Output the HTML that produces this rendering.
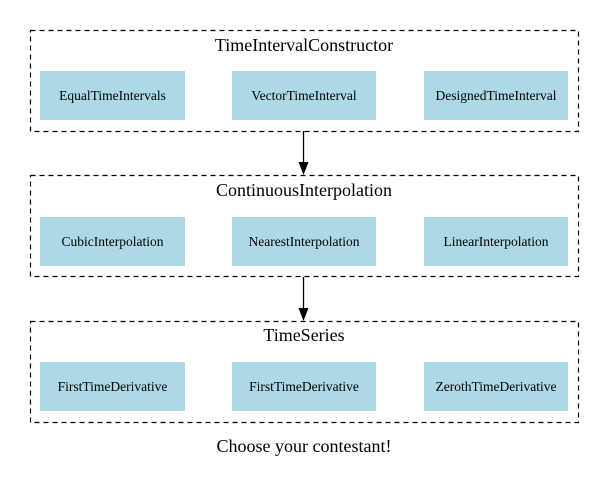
<!DOCTYPE html>
<html><head><style>body{margin:0;background:#fff}svg{display:block}</style></head><body>
<svg width="609" height="482" viewBox="0 0 609 482" xmlns="http://www.w3.org/2000/svg" font-family="Liberation Serif, serif">
<g fill="none" stroke="#000" stroke-width="1.2" stroke-dasharray="5,4">
<rect x="30.5" y="30.5" width="548" height="101"/>
<rect x="30.5" y="175.5" width="548" height="101"/>
<rect x="30.5" y="321.5" width="548" height="101"/>
</g>
<g font-size="18" text-anchor="middle">
<text x="304" y="51">TimeIntervalConstructor</text>
<text x="304" y="196">ContinuousInterpolation</text>
<text x="304" y="341">TimeSeries</text>
<text x="304" y="452">Choose your contestant!</text>
</g>
<g fill="#add8e6">
<rect x="40" y="71" width="145" height="49"/><rect x="232" y="71" width="144" height="49"/><rect x="424" y="71" width="144" height="49"/>
<rect x="40" y="217" width="145" height="49"/><rect x="232" y="217" width="144" height="49"/><rect x="424" y="217" width="144" height="49"/>
<rect x="40" y="362" width="145" height="49"/><rect x="232" y="362" width="144" height="49"/><rect x="424" y="362" width="144" height="49"/>
</g>
<g font-size="13.5" text-anchor="middle">
<text x="112.5" y="100">EqualTimeIntervals</text><text x="304" y="100">VectorTimeInterval</text><text x="496" y="100">DesignedTimeInterval</text>
<text x="112.5" y="246">CubicInterpolation</text><text x="304" y="246">NearestInterpolation</text><text x="496" y="246">LinearInterpolation</text>
<text x="112.5" y="391">FirstTimeDerivative</text><text x="304" y="391">FirstTimeDerivative</text><text x="496" y="391">ZerothTimeDerivative</text>
</g>
<g stroke="#000" stroke-width="1.3">
<line x1="303.5" y1="131" x2="303.5" y2="163"/>
<line x1="303.5" y1="277" x2="303.5" y2="309"/>
</g>
<polygon points="298.5,162 308.5,162 303.5,175" fill="#000"/>
<polygon points="298.5,308 308.5,308 303.5,321" fill="#000"/>
</svg>
</body></html>
